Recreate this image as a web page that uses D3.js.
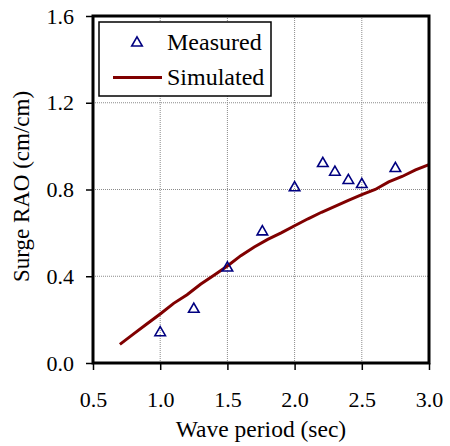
<!DOCTYPE html>
<html><head><meta charset="utf-8">
<script src="https://cdn.jsdelivr.net/npm/d3@7"></script>
<style>body{margin:0;background:#fff}svg{display:block}text{font-family:"Liberation Serif","Times New Roman",serif;fill:#000}</style>
</head><body><svg id="c" width="450" height="446"></svg>
<script>
const measuredT = [1.0, 1.25, 1.5, 1.76, 2.0, 2.21, 2.3, 2.4, 2.5, 2.75];
const measuredRAO = [0.14, 0.248, 0.438, 0.605, 0.808, 0.92, 0.88, 0.842, 0.823, 0.897];
const simT = [0.7,0.8,0.9,1.0,1.1,1.2,1.3,1.4,1.5,1.6,1.7,1.8,1.9,2.0,2.1,2.2,2.3,2.4,2.5,2.6,2.7,2.8,2.9,3.0];
const simRAO = [0.086,0.133,0.18,0.226,0.275,0.315,0.363,0.405,0.447,0.495,0.535,0.57,0.60,0.633,0.665,0.695,0.722,0.75,0.776,0.80,0.835,0.86,0.89,0.915];
const xTicks = [0.5,1.0,1.5,2.0,2.5,3.0];
const yTicks = [0.0,0.4,0.8,1.2,1.6];
const legendLabels = ["Measured","Simulated"];

const svg = d3.select("#c");
const L=93, R=429, T=16, B=363;
const x = d3.scaleLinear().domain([0.5,3.0]).range([L,R]);
const y = d3.scaleLinear().domain([0,1.6]).range([B,T]);

// grid
const g = svg.append("g");
g.selectAll("line.vx").data(xTicks.slice(1,-1)).enter().append("line")
 .attr("x1",d=>x(d)).attr("x2",d=>x(d)).attr("y1",T).attr("y2",B)
 .attr("stroke","#8a8a8a").attr("stroke-width",1).attr("stroke-dasharray","1,1");
g.selectAll("line.hy").data(yTicks.slice(1,-1)).enter().append("line")
 .attr("y1",d=>y(d)).attr("y2",d=>y(d)).attr("x1",L).attr("x2",R)
 .attr("stroke","#8a8a8a").attr("stroke-width",1).attr("stroke-dasharray","1,1");

// axes
const xa = svg.append("g").attr("transform",`translate(0,${B})`)
 .call(d3.axisBottom(x).tickValues(xTicks).tickFormat(d3.format(".1f")).tickSize(7).tickPadding(21));
const ya = svg.append("g").attr("transform",`translate(${L},0)`)
 .call(d3.axisLeft(y).tickValues(yTicks).tickFormat(d3.format(".1f")).tickSize(7).tickPadding(12));
[xa,ya].forEach(a=>{a.select(".domain").remove();
 a.selectAll(".tick line").attr("stroke","#000").attr("stroke-width",1.5);
 a.selectAll(".tick text").style("font-size","22px").attr("fill","#000");});

// simulated line
svg.append("path").datum(simT.map((t,i)=>[t,simRAO[i]]))
 .attr("d",d3.line().x(d=>x(d[0])).y(d=>y(d[1])))
 .attr("fill","none").attr("stroke","#800000").attr("stroke-width",3);

// measured triangles
const tri = d3.symbol().type(d3.symbolTriangle).size(48);
svg.selectAll("path.m").data(measuredT.map((t,i)=>[t,measuredRAO[i]])).enter().append("path")
 .attr("d",tri).attr("transform",d=>`translate(${x(d[0])},${y(d[1])})`)
 .attr("fill","none").attr("stroke","#000080").attr("stroke-width",1.6);

// frame
svg.append("rect").attr("x",L).attr("y",T).attr("width",R-L).attr("height",B-T)
 .attr("fill","none").attr("stroke","#000").attr("stroke-width",3);

// legend
const lg = svg.append("g");
lg.append("rect").attr("x",99).attr("y",22).attr("width",172).attr("height",74)
 .attr("fill","#fff").attr("stroke","#000").attr("stroke-width",1.5);
lg.append("path").attr("d",tri).attr("transform","translate(137,43)")
 .attr("fill","none").attr("stroke","#000080").attr("stroke-width",1.6);
lg.append("line").attr("x1",113).attr("x2",162).attr("y1",77.5).attr("y2",77.5)
 .attr("stroke","#800000").attr("stroke-width",3);
lg.append("text").attr("x",167).attr("y",50).style("font-size","24px").text(legendLabels[0]);
lg.append("text").attr("x",167).attr("y",85).style("font-size","24px").text(legendLabels[1]);

// titles
svg.append("text").attr("x",(L+R)/2).attr("y",437).attr("text-anchor","middle")
 .style("font-size","23.5px").text("Wave period (sec)");
svg.append("text").attr("transform",`translate(29,${(T+B)/2-3}) rotate(-90)`).attr("text-anchor","middle")
 .style("font-size","23px").text("Surge RAO (cm/cm)");
</script></body></html>
